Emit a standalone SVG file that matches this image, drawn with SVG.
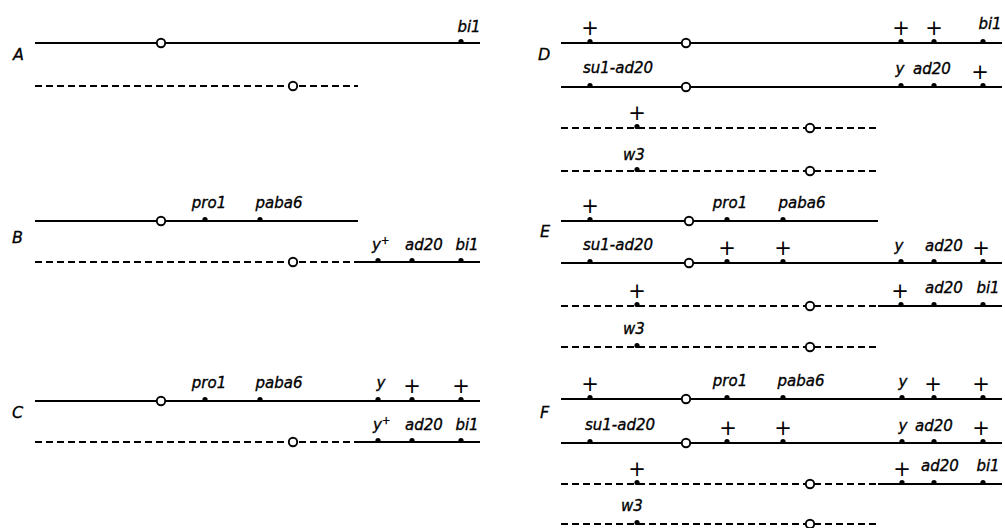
<svg xmlns="http://www.w3.org/2000/svg" width="1005" height="528" viewBox="0 0 1005 528">
  <style>
    .chr { stroke: #000; stroke-width: 2; fill: none; }
    .dash { stroke-dasharray: 7 4; }
    .cen { fill: #fff; stroke: #000; stroke-width: 1.9; }
    .loc { fill: #000; }
    .lab { font-family: "DejaVu Sans", "Liberation Sans", sans-serif; font-style: italic; font-size: 15px; fill: #000; stroke: #000; stroke-width: 0.35; text-anchor: middle; }
    .st { text-anchor: start; }
    .sup { font-size: 10px; font-style: normal; }
    .plus { font-family: "DejaVu Sans", "Liberation Sans", sans-serif; font-size: 21px; fill: #000; text-anchor: middle; }
    .panel { font-family: "DejaVu Sans", "Liberation Sans", sans-serif; font-style: italic; font-size: 16px; fill: #000; stroke: #000; stroke-width: 0.3; }
  </style>
  <defs>
    <circle id="c" r="4.2" class="cen"/>
    <circle id="d" r="2.6" class="loc"/>
  </defs>

  <rect width="1005" height="528" fill="#fff"/>

  <!-- Panel A -->
  <g id="panelA">
    <text class="panel" x="13" y="60">A</text>
    <g id="A1">
      <line class="chr" x1="35" y1="43" x2="480" y2="43"/>
      <use href="#d" x="461" y="41.5"/>
      <use href="#c" x="161" y="43"/>
      <text class="lab" x="469" y="32">bi1</text>
    </g>
    <g id="A2">
      <line class="chr dash" x1="35" y1="86" x2="358" y2="86"/>
      <use href="#c" x="293" y="86"/>
    </g>
  </g>

  <!-- Panel B -->
  <g id="panelB">
    <text class="panel" x="12" y="243">B</text>
    <g id="B1">
      <line class="chr" x1="35" y1="221" x2="358" y2="221"/>
      <use href="#d" x="205" y="219.5"/>
      <use href="#d" x="260" y="219.5"/>
      <use href="#c" x="161" y="221"/>
      <text class="lab" x="209" y="208">pro1</text>
      <text class="lab" x="279" y="208">paba6</text>
    </g>
    <g id="B2">
      <line class="chr dash" x1="35" y1="262" x2="358" y2="262"/>
      <line class="chr" x1="358" y1="262" x2="480" y2="262"/>
      <use href="#d" x="378" y="260.5"/>
      <use href="#d" x="412" y="260.5"/>
      <use href="#d" x="461" y="260.5"/>
      <use href="#c" x="293" y="262"/>
      <text class="lab st" x="372" y="250">y<tspan class="sup" dy="-6">+</tspan></text>
      <text class="lab" x="424" y="250">ad20</text>
      <text class="lab" x="467" y="250">bi1</text>
    </g>
  </g>

  <!-- Panel C -->
  <g id="panelC">
    <text class="panel" x="12" y="418">C</text>
    <g id="C1">
      <line class="chr" x1="35" y1="401" x2="480" y2="401"/>
      <use href="#d" x="205" y="399.5"/>
      <use href="#d" x="260" y="399.5"/>
      <use href="#d" x="378" y="399.5"/>
      <use href="#d" x="412" y="399.5"/>
      <use href="#d" x="461" y="399.5"/>
      <use href="#c" x="161" y="401"/>
      <text class="lab" x="209" y="388">pro1</text>
      <text class="lab" x="279" y="388">paba6</text>
      <text class="lab" x="381" y="388">y</text>
      <text class="plus" x="412" y="393">+</text>
      <text class="plus" x="461" y="393">+</text>
    </g>
    <g id="C2">
      <line class="chr dash" x1="35" y1="442" x2="358" y2="442"/>
      <line class="chr" x1="358" y1="442" x2="480" y2="442"/>
      <use href="#d" x="378" y="440.5"/>
      <use href="#d" x="412" y="440.5"/>
      <use href="#d" x="461" y="440.5"/>
      <use href="#c" x="293" y="442"/>
      <text class="lab st" x="373" y="430">y<tspan class="sup" dy="-6">+</tspan></text>
      <text class="lab" x="424" y="430">ad20</text>
      <text class="lab" x="467" y="430">bi1</text>
    </g>
  </g>

  <!-- Panel D -->
  <g id="panelD">
    <text class="panel" x="538" y="60">D</text>
    <g id="D1">
      <line class="chr" x1="561" y1="43" x2="1002" y2="43"/>
      <use href="#d" x="590" y="41.5"/>
      <use href="#d" x="901" y="41.5"/>
      <use href="#d" x="934" y="41.5"/>
      <use href="#d" x="983" y="41.5"/>
      <use href="#c" x="686" y="43"/>
      <text class="plus" x="590" y="35">+</text>
      <text class="plus" x="901" y="35">+</text>
      <text class="plus" x="934" y="35">+</text>
      <text class="lab" x="990" y="29">bi1</text>
    </g>
    <g id="D2">
      <line class="chr" x1="561" y1="87" x2="1002" y2="87"/>
      <use href="#d" x="590" y="85.5"/>
      <use href="#d" x="901" y="85.5"/>
      <use href="#d" x="934" y="85.5"/>
      <use href="#d" x="983" y="85.5"/>
      <use href="#c" x="686" y="87"/>
      <text class="lab" x="618" y="73">su1-ad20</text>
      <text class="lab" x="900" y="74">y</text>
      <text class="lab" x="932" y="74">ad20</text>
      <text class="plus" x="980" y="79">+</text>
    </g>
    <g id="D3">
      <line class="chr dash" x1="561" y1="128" x2="878" y2="128"/>
      <use href="#d" x="637" y="126.5"/>
      <use href="#c" x="810" y="128"/>
      <text class="plus" x="637" y="120">+</text>
    </g>
    <g id="D4">
      <line class="chr dash" x1="561" y1="171" x2="878" y2="171"/>
      <use href="#d" x="637" y="169.5"/>
      <use href="#c" x="810" y="171"/>
      <text class="lab" x="634" y="160">w3</text>
    </g>
  </g>

  <!-- Panel E -->
  <g id="panelE">
    <text class="panel" x="540" y="237">E</text>
    <g id="E1">
      <line class="chr" x1="561" y1="221" x2="878" y2="221"/>
      <use href="#d" x="590" y="219.5"/>
      <use href="#d" x="727" y="219.5"/>
      <use href="#d" x="783" y="219.5"/>
      <use href="#c" x="689" y="221"/>
      <text class="plus" x="590" y="213">+</text>
      <text class="lab" x="730" y="208">pro1</text>
      <text class="lab" x="802" y="208">paba6</text>
    </g>
    <g id="E2">
      <line class="chr" x1="561" y1="263" x2="1002" y2="263"/>
      <use href="#d" x="590" y="261.5"/>
      <use href="#d" x="727" y="261.5"/>
      <use href="#d" x="783" y="261.5"/>
      <use href="#d" x="901" y="261.5"/>
      <use href="#d" x="934" y="261.5"/>
      <use href="#d" x="983" y="261.5"/>
      <use href="#c" x="689" y="263"/>
      <text class="lab" x="618" y="250">su1-ad20</text>
      <text class="plus" x="727" y="255">+</text>
      <text class="plus" x="783" y="255">+</text>
      <text class="lab" x="899" y="251">y</text>
      <text class="lab" x="944" y="251">ad20</text>
      <text class="plus" x="981" y="255">+</text>
    </g>
    <g id="E3">
      <line class="chr dash" x1="561" y1="306" x2="878" y2="306"/>
      <line class="chr" x1="878" y1="306" x2="1002" y2="306"/>
      <use href="#d" x="637" y="304.5"/>
      <use href="#d" x="901" y="304.5"/>
      <use href="#d" x="934" y="304.5"/>
      <use href="#d" x="983" y="304.5"/>
      <use href="#c" x="810" y="306"/>
      <text class="plus" x="637" y="298">+</text>
      <text class="plus" x="900" y="298">+</text>
      <text class="lab" x="944" y="293">ad20</text>
      <text class="lab" x="988" y="293">bi1</text>
    </g>
    <g id="E4">
      <line class="chr dash" x1="561" y1="347" x2="878" y2="347"/>
      <use href="#d" x="637" y="345.5"/>
      <use href="#c" x="810" y="347"/>
      <text class="lab" x="634" y="334">w3</text>
    </g>
  </g>

  <!-- Panel F -->
  <g id="panelF">
    <text class="panel" x="540" y="418">F</text>
    <g id="F1">
      <line class="chr" x1="561" y1="399" x2="1002" y2="399"/>
      <use href="#d" x="590" y="397.5"/>
      <use href="#d" x="727" y="397.5"/>
      <use href="#d" x="783" y="397.5"/>
      <use href="#d" x="902" y="397.5"/>
      <use href="#d" x="934" y="397.5"/>
      <use href="#d" x="983" y="397.5"/>
      <use href="#c" x="686" y="399"/>
      <text class="plus" x="590" y="391">+</text>
      <text class="lab" x="730" y="386">pro1</text>
      <text class="lab" x="801" y="386">paba6</text>
      <text class="lab" x="903" y="387">y</text>
      <text class="plus" x="933" y="391">+</text>
      <text class="plus" x="981" y="391">+</text>
    </g>
    <g id="F2">
      <line class="chr" x1="561" y1="443" x2="1002" y2="443"/>
      <use href="#d" x="590" y="441.5"/>
      <use href="#d" x="727" y="441.5"/>
      <use href="#d" x="783" y="441.5"/>
      <use href="#d" x="902" y="441.5"/>
      <use href="#d" x="934" y="441.5"/>
      <use href="#d" x="983" y="441.5"/>
      <use href="#c" x="686" y="443"/>
      <text class="lab" x="620" y="430">su1-ad20</text>
      <text class="plus" x="728" y="435">+</text>
      <text class="plus" x="783" y="435">+</text>
      <text class="lab" x="903" y="431">y</text>
      <text class="lab" x="934" y="431">ad20</text>
      <text class="plus" x="981" y="435">+</text>
    </g>
    <g id="F3">
      <line class="chr dash" x1="561" y1="484" x2="878" y2="484"/>
      <line class="chr" x1="878" y1="484" x2="1002" y2="484"/>
      <use href="#d" x="637" y="482.5"/>
      <use href="#d" x="902" y="482.5"/>
      <use href="#d" x="934" y="482.5"/>
      <use href="#d" x="983" y="482.5"/>
      <use href="#c" x="810" y="484"/>
      <text class="plus" x="637" y="476">+</text>
      <text class="plus" x="902" y="476">+</text>
      <text class="lab" x="940" y="471">ad20</text>
      <text class="lab" x="988" y="471">bi1</text>
    </g>
    <g id="F4">
      <line class="chr dash" x1="561" y1="524" x2="878" y2="524"/>
      <use href="#d" x="637" y="522.5"/>
      <use href="#c" x="810" y="524"/>
      <text class="lab" x="632" y="511">w3</text>
    </g>
  </g>
</svg>
